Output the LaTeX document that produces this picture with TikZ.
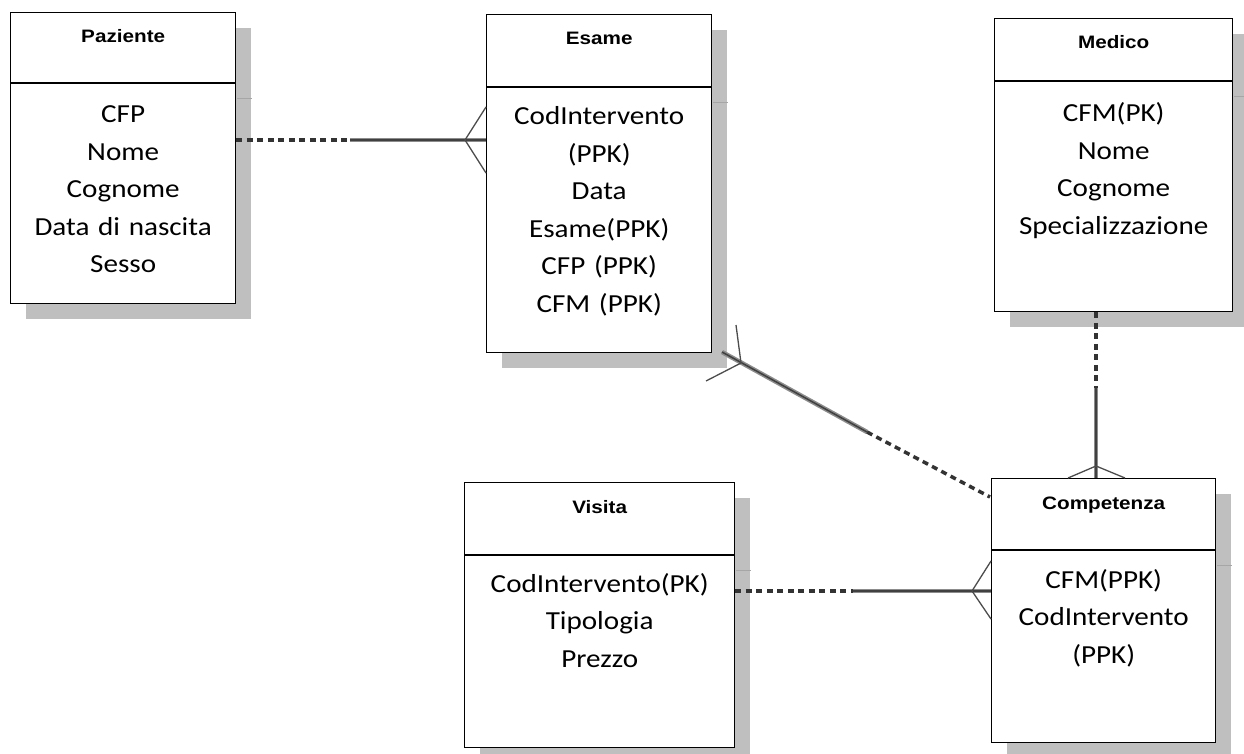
\documentclass[tikz,border=0pt]{standalone}
\usepackage{fontspec}
\setmainfont{Carlito}[FakeStretch=1.12]
\newfontfamily\headfont{Liberation Sans}[FakeStretch=1.15]
\usetikzlibrary{calc, shadows}
\tikzset{EntityBox/.style={
    draw=black,
    line width=1.4pt,
    fill=white,
    inner sep=0pt,
    anchor=north west,
    drop shadow={shadow xshift=15pt, shadow yshift=-15pt, fill=black!25, opacity=1}
    }
}
\tikzset{EntityTitle/.style={
    anchor=base,
    inner sep=0pt,
    font=\headfont\bfseries\fontsize{18}{22}\selectfont
    }
}
\tikzset{EntityAttr/.style={
    anchor=base,
    inner sep=0pt,
    align=center,
    font=\fontsize{26}{37.5}\selectfont
    }
}
\tikzset{DashPart/.style={draw=black!80, line width=3.5pt, dash pattern=on 6pt off 4.5pt}}
\tikzset{SolidPart/.style={draw=black!45, line width=4.5pt, postaction={draw=black!75, line width=1.5pt}}}
\tikzset{CrowFoot/.style={draw=black!70, line width=1.3pt}}

\begin{document}
\begin{tikzpicture}[x=1pt, y=-1pt]
    \useasboundingbox (0,0) rectangle (1244,754);

    % entities
    \node (paz) [EntityBox, minimum width=225pt, minimum height=291pt] at (10,12) {};
    \node (esa) [EntityBox, minimum width=225pt, minimum height=338pt] at (486,14) {};
    \node (med) [EntityBox, minimum width=238pt, minimum height=293pt] at (994,18) {};
    \node (vis) [EntityBox, minimum width=270pt, minimum height=265pt] at (464,482) {};
    \node (com) [EntityBox, minimum width=224pt, minimum height=264pt] at (991,478) {};

    % header lines
    \foreach \e/\d in {paz/71, esa/73, med/63, vis/73, com/72}{
        \draw[line width=1.4pt] ($(\e.north west)+(0,\d)$) -- ($(\e.north east)+(0,\d)$);
        \draw[black!35, line width=0.8pt] ($(\e.north east)+(0.7,\d+15)$) -- ++(15,0);
    }

    \node (pazT) [EntityTitle] at ($(paz.north)+(0,31)$) {Paziente};
    \node (esaT) [EntityTitle] at ($(esa.north)+(0,31)$) {Esame};
    \node (medT) [EntityTitle] at ($(med.north)+(0,31)$) {Medico};
    \node (visT) [EntityTitle] at ($(vis.north)+(0,31)$) {Visita};
    \node (comT) [EntityTitle] at ($(com.north)+(0,31)$) {Competenza};

    \node (pazA) [EntityAttr, text width=225pt] at ($(paz.north)+(0,111)$) {CFP\\Nome\\Cognome\\Data di nascita\\Sesso};
    \node (esaA) [EntityAttr, text width=225pt] at ($(esa.north)+(0,111)$) {CodIntervento\\(PPK)\\Data\\Esame(PPK)\\CFP (PPK)\\CFM (PPK)};
    \node (medA) [EntityAttr, text width=238pt] at ($(med.north)+(0,104)$) {CFM(PK)\\Nome\\Cognome\\Specializzazione};
    \node (visA) [EntityAttr, text width=270pt] at ($(vis.north)+(0,110)$) {CodIntervento(PK)\\Tipologia\\Prezzo};
    \node (comA) [EntityAttr, text width=224pt] at ($(com.north)+(0,110)$) {CFM(PPK)\\CodIntervento\\(PPK)};

    % Paziente - Esame
    \coordinate (pe-mid) at (350,140);
    \coordinate (pe-foot) at (465,140);
    \draw[DashPart] (paz.east |- pe-mid) -- (pe-mid);
    \draw[SolidPart] (pe-mid) -- (esa.west |- pe-mid);
    \draw[CrowFoot] ($(esa.west |- pe-foot)+(0,-33)$) -- (pe-foot) -- ($(esa.west |- pe-foot)+(0,33)$);

    % Visita - Competenza
    \coordinate (vc-mid) at (853,591);
    \coordinate (vc-foot) at (972,591);
    \draw[DashPart] (vis.east |- vc-mid) -- (vc-mid);
    \draw[SolidPart] (vc-mid) -- (com.west |- vc-mid);
    \draw[CrowFoot] ($(com.west |- vc-foot)+(0,-30)$) -- (vc-foot) -- ($(com.west |- vc-foot)+(0,28)$);

    % Medico - Competenza
    \coordinate (mc-mid) at (1096,388);
    \coordinate (mc-foot) at (1096,466);
    \draw[DashPart] (med.south -| mc-mid) -- (mc-mid);
    \draw[SolidPart] (mc-mid) -- (com.north -| mc-mid);
    \draw[CrowFoot] ($(com.north -| mc-foot)+(-28,0)$) -- (mc-foot) -- ($(com.north -| mc-foot)+(29,0)$);

    % Esame - Competenza
    \coordinate (ec-start) at (722,352);
    \coordinate (ec-foot) at (741,363);
    \coordinate (ec-mid) at (867,432);
    \coordinate (ec-end) at (990,497);
    \draw[SolidPart] (ec-start) -- (ec-mid);
    \draw[DashPart] (ec-mid) -- (ec-end);
    \draw[CrowFoot] ($(ec-foot)+(-5,-38)$) -- (ec-foot) -- ($(ec-foot)+(-35,18)$);

\end{tikzpicture}
\end{document}
